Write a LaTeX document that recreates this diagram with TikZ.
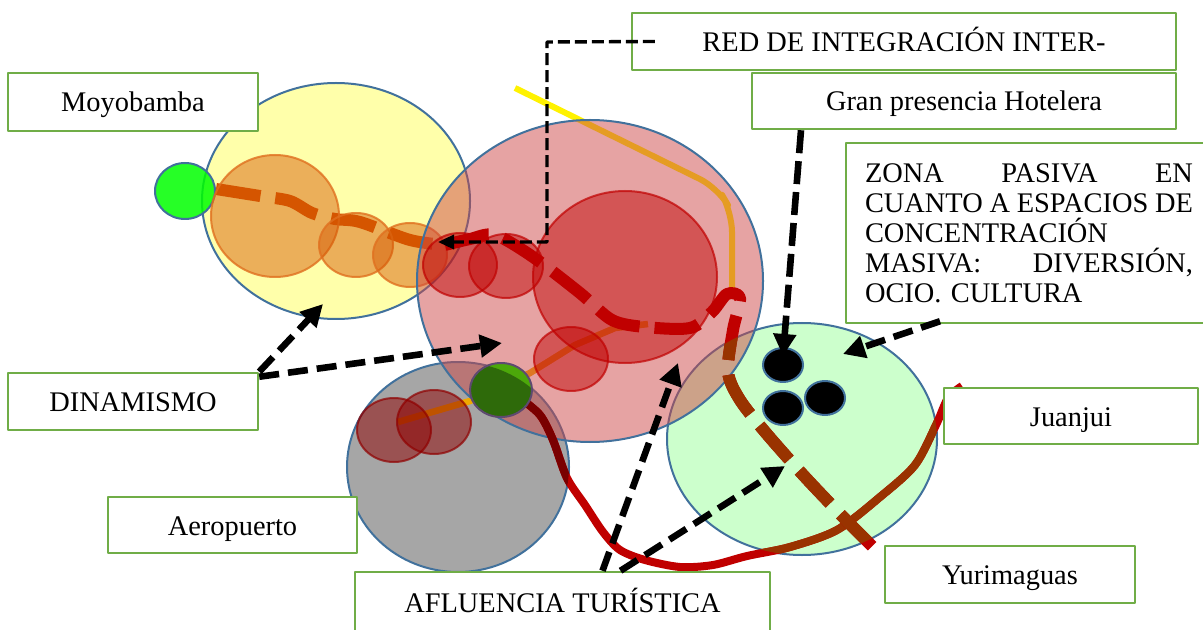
\documentclass[tikz,border=0pt]{standalone}
\usepackage{fontspec}
\setmainfont{Liberation Serif}
\usetikzlibrary{arrows.meta}

\definecolor{bordeazul}{HTML}{41719C}
\definecolor{verdecaja}{HTML}{70AD47}
\definecolor{amarillo}{HTML}{FFFFAA}
\definecolor{gris}{HTML}{A6A6A6}
\definecolor{verdepalido}{HTML}{CCFFCC}
\definecolor{naranja}{HTML}{D55500}
\definecolor{naranjaborde}{HTML}{E0701F}
\definecolor{rojo}{HTML}{C00000}
\definecolor{rojoclaro}{HTML}{CD4747}
\definecolor{rojooscuro}{HTML}{900000}
\definecolor{granate}{HTML}{7A0000}
\definecolor{marron}{HTML}{993300}
\definecolor{ambar}{HTML}{F0A800}
\definecolor{verdevivo}{HTML}{00FF00}
\definecolor{verdeoscuro}{HTML}{2E6A0A}
\definecolor{verdeclaro}{HTML}{4CA80A}
\definecolor{bordemorado}{HTML}{5E4A70}

\tikzset{
  caja/.style={draw=verdecaja, line width=1.25pt, fill=white, inner sep=0pt, font=\fontsize{14.2}{15}\selectfont},
  etiqueta/.style={caja, text height=11pt, text depth=1pt},
  zona/.style={draw=bordeazul, line width=1pt},
  ruta/.style={line width=6pt, dash pattern=on 22.5pt off 7.5pt},
  flecha/.style={line width=3.3pt, dash pattern=on 10pt off 4.5pt, -{Triangle[length=11pt,width=11pt]}},
  circnaranja/.style={draw=naranjaborde, draw opacity=0.8, fill=naranja, fill opacity=0.47, line width=1pt},
  circrojo/.style={draw=rojo, draw opacity=0.7, fill=rojo, fill opacity=0.47, line width=1pt},
  circgranate/.style={draw=rojooscuro, draw opacity=0.7, fill=rojooscuro, fill opacity=0.5, line width=1pt},
  punto/.style={draw=bordeazul, fill=black, line width=1pt}
}

\begin{document}
\begin{tikzpicture}[line join=round,x=0.5pt,y=-0.5pt]
\useasboundingbox (0,0) rectangle (1203,630);

\filldraw[zona, fill=amarillo] (336,201) ellipse (134 and 118);
\filldraw[zona, fill=verdevivo, fill opacity=0.85] (185,191) ellipse (30 and 28);
\filldraw[zona, fill=gris] (458,467) ellipse (111 and 105);
\filldraw[zona, fill=verdepalido] (802,439) ellipse (135 and 116);

\draw[line width=3pt, color=yellow, rounded corners=10pt] (515,88) -- (718,188) -- (732,212) -- (732,293);
\draw[line width=3.3pt, color=ambar] (398,422) -- (470,401) -- (530,373) -- (575,345) -- (615,328) -- (648,324);
\draw[ruta, color=naranja] plot[smooth] coordinates {(216,189) (260,196) (290,201) (312,213) (335,219) (360,222) (410,240) (445,245)};

\filldraw[circnaranja] (275,216) ellipse (64 and 61);
\filldraw[circnaranja] (356,245) ellipse (37 and 32);
\filldraw[circnaranja] (410,255) ellipse (37 and 32);

\filldraw[zona, fill=rojoclaro, fill opacity=0.5] (590,281) ellipse (173 and 161);

\filldraw[circrojo] (625,277) ellipse (92 and 86);
\filldraw[circrojo] (460,265) ellipse (37 and 32);
\filldraw[circrojo] (506,266) ellipse (37 and 32);
\filldraw[circrojo] (571,359) ellipse (37 and 32);
\filldraw[circgranate] (394,430) ellipse (37 and 32);
\filldraw[circgranate] (434,422) ellipse (37 and 32);

\draw[line width=4pt, color=rojo] plot[smooth] coordinates {(520,398) (540,415) (553,440) (567,478) (585,505) (603,532) (620,550) (645,560) (680,567) (713,565) (747,556) (790,547) (837,530) (880,497) (915,465) (936,425) (948,398) (962,386)};
\begin{scope}
\clip (458,467) ellipse (111 and 105);
\draw[line width=4pt, color=granate] plot[smooth] coordinates {(520,398) (540,415) (553,440) (567,478) (585,505) (603,532) (620,550) (645,560) (680,567) (713,565) (747,556) (790,547) (837,530) (880,497) (915,465) (936,425) (948,398) (962,386)};
\end{scope}
\begin{scope}
\clip (802,439) ellipse (135 and 116);
\draw[line width=4pt, color=marron] plot[smooth] coordinates {(520,398) (540,415) (553,440) (567,478) (585,505) (603,532) (620,550) (645,560) (680,567) (713,565) (747,556) (790,547) (837,530) (880,497) (915,465) (936,425) (948,398) (962,386)};
\end{scope}

\fill[verdeclaro] (501,390) ellipse (31 and 27);
\begin{scope}
\clip (501,390) ellipse (31 and 27);
\fill[verdeoscuro] (458,467) ellipse (111 and 105);
\end{scope}
\draw[draw=bordemorado, line width=1pt] (501,390) ellipse (31 and 27);

\draw[ruta, color=rojo] plot[smooth] coordinates {(445,245) (470,239) (495,235) (533,257) (580,293) (612,320) (645,327) (690,328) (712,312) (727,294) (740,298) (733,330) (728,372) (740,400) (766,433) (805,477) (846,520) (878,552)};
\begin{scope}
\clip (802,439) ellipse (135 and 116);
\draw[ruta, color=marron] plot[smooth] coordinates {(445,245) (470,239) (495,235) (533,257) (580,293) (612,320) (645,327) (690,328) (712,312) (727,294) (740,298) (733,330) (728,372) (740,400) (766,433) (805,477) (846,520) (878,552)};
\end{scope}

\filldraw[punto] (783,365) ellipse (20 and 17);
\filldraw[punto] (783,408) ellipse (20 and 17);
\filldraw[punto] (825,398) ellipse (20 and 17);

\node[etiqueta, minimum width=125pt, minimum height=29pt] (moyo) at (133,102) {Moyobamba};
\node[etiqueta, minimum width=272pt, minimum height=28.5pt] (red) at (904,41.5) {RED DE INTEGRACIÓN INTER-};
\node[etiqueta, minimum width=212pt, minimum height=28pt] (hotel) at (964,101) {Gran presencia Hotelera};
\node[caja, minimum width=183pt, minimum height=90pt, text width=164pt, align=left, inner xsep=9.5pt] (zona) at (1029,233) {\makebox[164pt]{ZONA\hspace{\fill}PASIVA\hspace{\fill}EN}\\
\makebox[164pt]{CUANTO\hspace{\fill}A\hspace{\fill}ESPACIOS\hspace{\fill}DE}\\
CONCENTRACIÓN\\
\makebox[164pt]{MASIVA:\hspace{\fill}DIVERSIÓN,}\\
OCIO. CULTURA};
\node[etiqueta, minimum width=125pt, minimum height=28.5pt] (dina) at (133,401.5) {DINAMISMO};
\node[etiqueta, minimum width=127pt, minimum height=28pt] (juan) at (1071,416) {Juanjui};
\node[etiqueta, minimum width=124.5pt, minimum height=28pt] (aero) at (232.5,525) {Aeropuerto};
\node[etiqueta, minimum width=125pt, minimum height=28.5pt] (yuri) at (1010,574.5) {Yurimaguas};
\node[etiqueta, minimum width=207.5pt, minimum height=30pt] (aflu) at (562.5,602) {AFLUENCIA TURÍSTICA};

\coordinate (cAmarillo) at (323,304);
\coordinate (cRojo) at (502,343);
\coordinate (cRojoSur) at (678,363);
\coordinate (cVerde) at (785,466);
\coordinate (cVerdeNorte) at (843,354);
\coordinate (cPunto) at (783,356);
\coordinate (cRuta) at (438,242);

\draw[flecha] (dina.north east) -- (cAmarillo);
\draw[flecha] ([yshift=-2.5pt]dina.north east) -- (cRojo);
\draw[flecha] ([xshift=20pt]aflu.north) -- (cRojoSur);
\draw[flecha] ([xshift=29pt]aflu.north) -- (cVerde);
\draw[flecha] ([xshift=-44.5pt,yshift=1.5pt]zona.south) -- (cVerdeNorte);
\draw[flecha, dash pattern=on 11.5pt off 4pt] ([xshift=-81.5pt]hotel.south) -- (cPunto);
\draw[line width=1.7pt, dash pattern=on 6pt off 2.5pt, -{Triangle[length=8pt,width=7pt]}] ([xshift=12pt]red.west) -- (547,42) -- (547,242) -- (cRuta);
\end{tikzpicture}
\end{document}
